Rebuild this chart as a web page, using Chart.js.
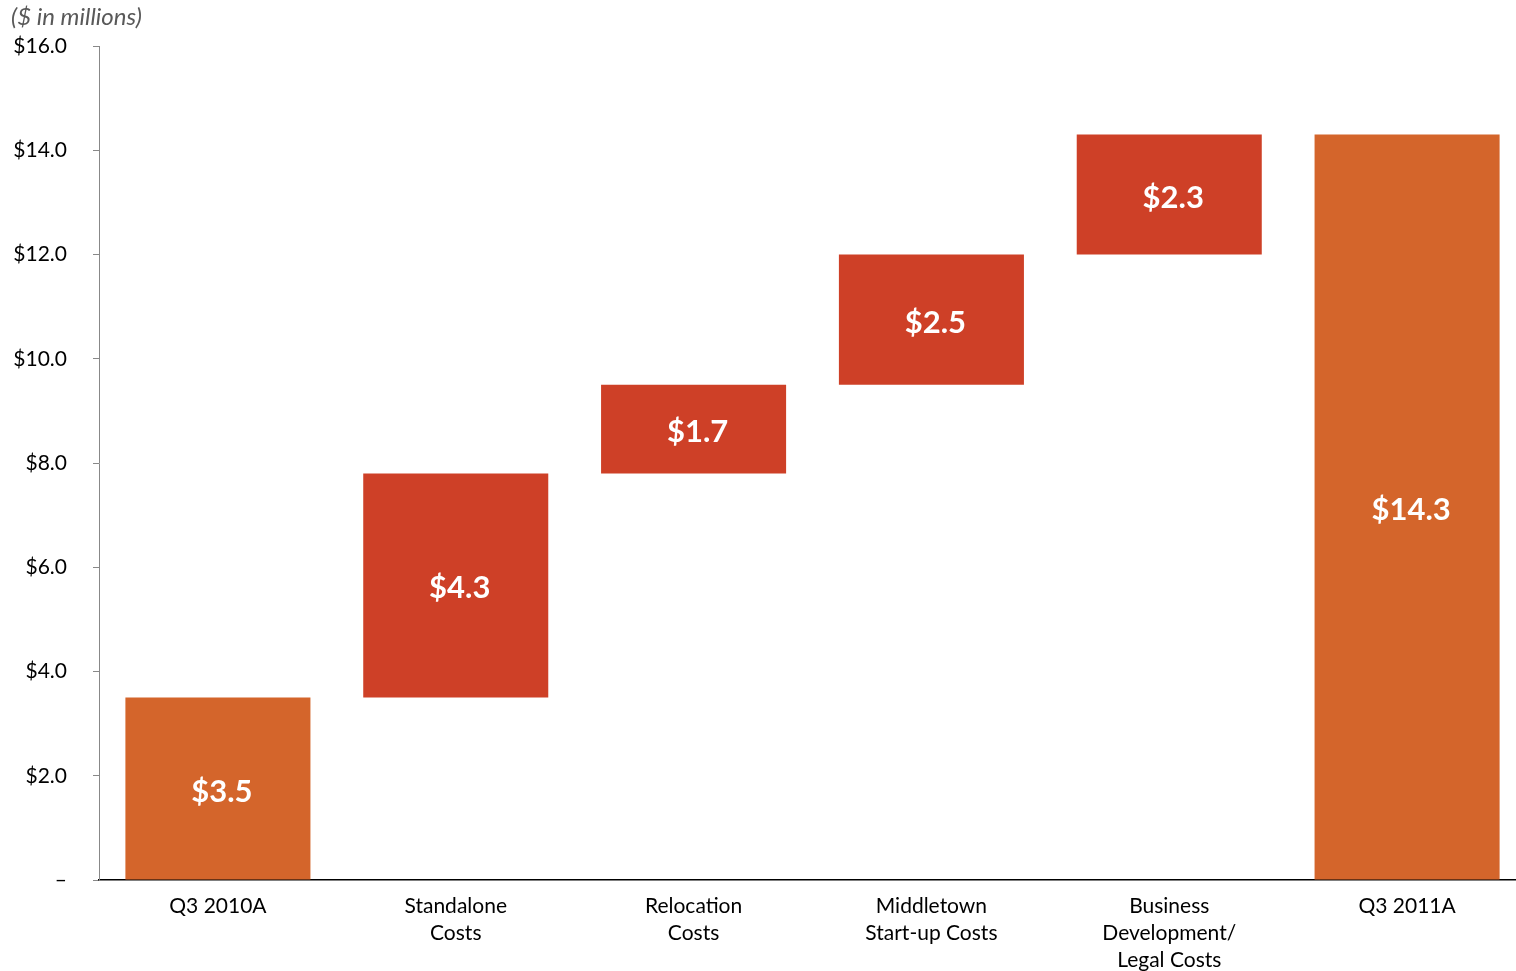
<!DOCTYPE html>
<html>
<head>
<meta charset="utf-8">
<script src="https://cdn.jsdelivr.net/npm/chart.js@4/dist/chart.umd.min.js"></script>
<style>
  body { margin: 0; background: #fff; overflow: hidden; }
  #clip { width: 1516px; height: 971px; overflow: hidden; }
  #wrap { width: 1526px; height: 971px; position: relative; }
</style>
</head>
<body>
<div id="clip"><div id="wrap"><canvas id="waterfall"></canvas></div></div>
<script>
// categorias e valores (em milhões)
const categorias = ["Q3 2010A", ["Standalone", "Costs"], ["Relocation", "Costs"], ["Middletown", "Start-up Costs"], ["Business", "Development/", "Legal Costs"], "Q3 2011A"];
const variacoes = [3.5, 4.3, 1.7, 2.5, 2.3, 14.3];
const ehTotal = [true, false, false, false, false, true];
const yTicks = [0, 2, 4, 6, 8, 10, 12, 14, 16];

const corTotal = "#D4652B";
const corPasso = "#CE4027";
const fonte = "Lato, 'Open Sans', sans-serif";

// monta as barras flutuantes
let acumulado = 0;
const barras = variacoes.map((v, i) => {
    if (ehTotal[i]) { acumulado = v; return [0, v]; }
    const ini = acumulado;
    acumulado = +(acumulado + v).toFixed(1);
    return [ini, acumulado];
});

const rotulos = {
    id: "rotulos",
    afterDatasetsDraw(chart) {
        const ctx = chart.ctx;
        const meta = chart.getDatasetMeta(0);
        ctx.save();
        ctx.fillStyle = "#fff";
        ctx.font = "bold 31px " + fonte;
        ctx.textAlign = "center";
        ctx.textBaseline = "middle";
        meta.data.forEach((bar, i) => {
            ctx.fillText("$" + variacoes[i].toFixed(1), bar.x + 4, (bar.y + bar.base) / 2 + 3);
        });
        // unidade
        ctx.fillStyle = "#595959";
        ctx.font = "italic 24px " + fonte;
        ctx.textAlign = "left";
        ctx.fillText("($ in millions)", 11, 17);
        ctx.restore();
    }
};

new Chart(document.getElementById("waterfall"), {
    type: "bar",
    data: {
        labels: categorias,
        datasets: [{
            data: barras,
            backgroundColor: ehTotal.map(t => t ? corTotal : corPasso),
            barPercentage: 0.778,
            categoryPercentage: 1.0,
            borderSkipped: false
        }]
    },
    options: {
        responsive: true,
        maintainAspectRatio: false,
        animation: false,
        layout: { padding: { top: 46, left: 0, right: 0, bottom: 0 } },
        plugins: {
            legend: { display: false },
            tooltip: { enabled: false }
        },
        scales: {
            x: {
                grid: { display: false },
                border: { display: true, color: "#000", width: 1.5 },
                ticks: {
                    color: "#000",
                    font: { family: fonte, size: 21, lineHeight: 1.29 },
                    maxRotation: 0,
                    autoSkip: false,
                    padding: 5
                },
                afterFit: s => { s.height = 91; }
            },
            y: {
                min: 0,
                max: 16,
                afterBuildTicks: s => { s.ticks = yTicks.map(v => ({ value: v })); },
                grid: { display: true, drawOnChartArea: false, drawTicks: true, tickLength: 6, color: "#888" },
                border: { display: true, color: "#888", width: 1 },
                ticks: {
                    color: "#000",
                    font: { family: fonte, size: 21 },
                    padding: 26,
                    callback: v => v === 0 ? "–" : "$" + v.toFixed(1)
                },
                afterFit: s => { s.width = 99; }
            }
        }
    },
    plugins: [rotulos]
});
</script>
</body>
</html>
